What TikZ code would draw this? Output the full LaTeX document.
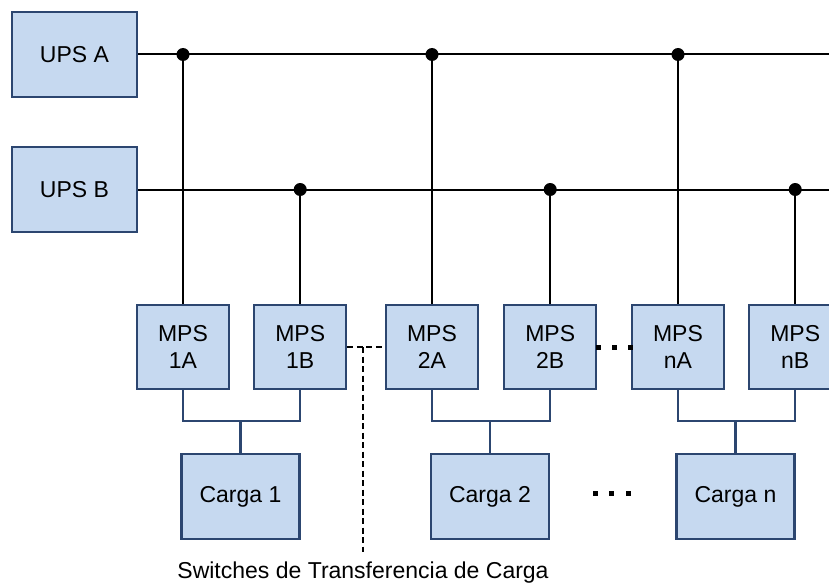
\documentclass[tikz,border=0pt]{standalone}
\usepackage{fontspec}
\setmainfont{Liberation Sans}
\usepackage{tikz}
\usetikzlibrary{positioning,shapes}

\definecolor{boxfill}{RGB}{198,217,240}
\definecolor{boxline}{RGB}{44,70,112}

\begin{document}
\begin{tikzpicture}[x=1pt,y=-1pt,font=\fontsize{23}{27}\selectfont]
	\tikzstyle{ups}
	  =[draw=boxline, fill=boxfill, line width=2.2pt, rectangle,
	  minimum width=125pt, minimum height=85pt, inner sep=0pt]
	\tikzstyle{mps}
	  =[draw=boxline, fill=boxfill, line width=2.2pt, rectangle,
	  minimum width=92pt, minimum height=84pt, inner sep=0pt, align=center]
	\tikzstyle{carga}
	  =[draw=boxline, fill=boxfill, line width=2.2pt, rectangle,
	  minimum width=118pt, minimum height=85pt, inner sep=0pt]
	\tikzstyle{bus}=[black, line width=2pt]
	\tikzstyle{link}=[boxline, line width=2.2pt]
	\tikzstyle{sw}=[black, line width=2pt, dash pattern=on 6pt off 3.5pt]

	\useasboundingbox (0,0) rectangle (829,586);

	% fuentes
	\node[ups] (UA) at (74.5,54.5) {UPS A};
	\node[ups] (UB) at (74.5,189.5) {UPS B};

	% modulos
	\node[mps] (M1A) at (183,347) {MPS\\1A};
	\node[mps] (M1B) [right=23pt of M1A] {MPS\\1B};
	\node[mps] (M2A) at (432,347) {MPS\\2A};
	\node[mps] (M2B) [right=24pt of M2A] {MPS\\2B};
	\node[mps] (MnA) at (678,347) {MPS\\nA};
	\node[mps] (MnB) [right=23pt of MnA] {MPS\\nB};

	% cargas
	\node[carga] (C1) at (240.5,496.5) {Carga 1};
	\node[carga] (C2) at (490,496.5) {Carga 2};
	\node[carga] (Cn) at (735.5,496.5) {Carga n};

	% barras
	\coordinate (endA) at (829,54.5);
	\coordinate (endB) at (829,189.5);
	\draw[bus] (UA.east) -- (endA);
	\draw[bus] (UB.east) -- (endB);

	\foreach \m in {1A,2A,nA}{
	  \coordinate (d\m) at (M\m.north |- endA);
	  \draw[bus] (d\m) -- (M\m.north);
	  \fill (d\m) circle (6.5pt);
	}
	\foreach \m in {1B,2B,nB}{
	  \coordinate (d\m) at (M\m.north |- endB);
	  \draw[bus] (d\m) -- (M\m.north);
	  \fill (d\m) circle (6.5pt);
	}

	% salidas a cargas
	\foreach \n in {1,2,n}{
	  \coordinate (J\n) at (C\n.north |- 0,421);
	  \draw[link] (M\n A.south) |- (J\n) -| (M\n B.south);
	  \draw[link] (J\n) -- (C\n.north);
	}

	% switches
	\draw[sw] (M1B.east) -- (M2A.west);
	\coordinate (s1) at (363,347);
	\coordinate (s2) at (363,552);
	\draw[sw] (s1) -- (s2);
	\node (lbl) at (363,573) {Switches de Transferencia de Carga};

	% puntos
	\foreach \x in {596,612,628}
	  \fill (\x,344.5) rectangle ++(5,5);
	\foreach \x in {593,609,626}
	  \fill (\x,491) rectangle ++(5,5);
\end{tikzpicture}
\end{document}
